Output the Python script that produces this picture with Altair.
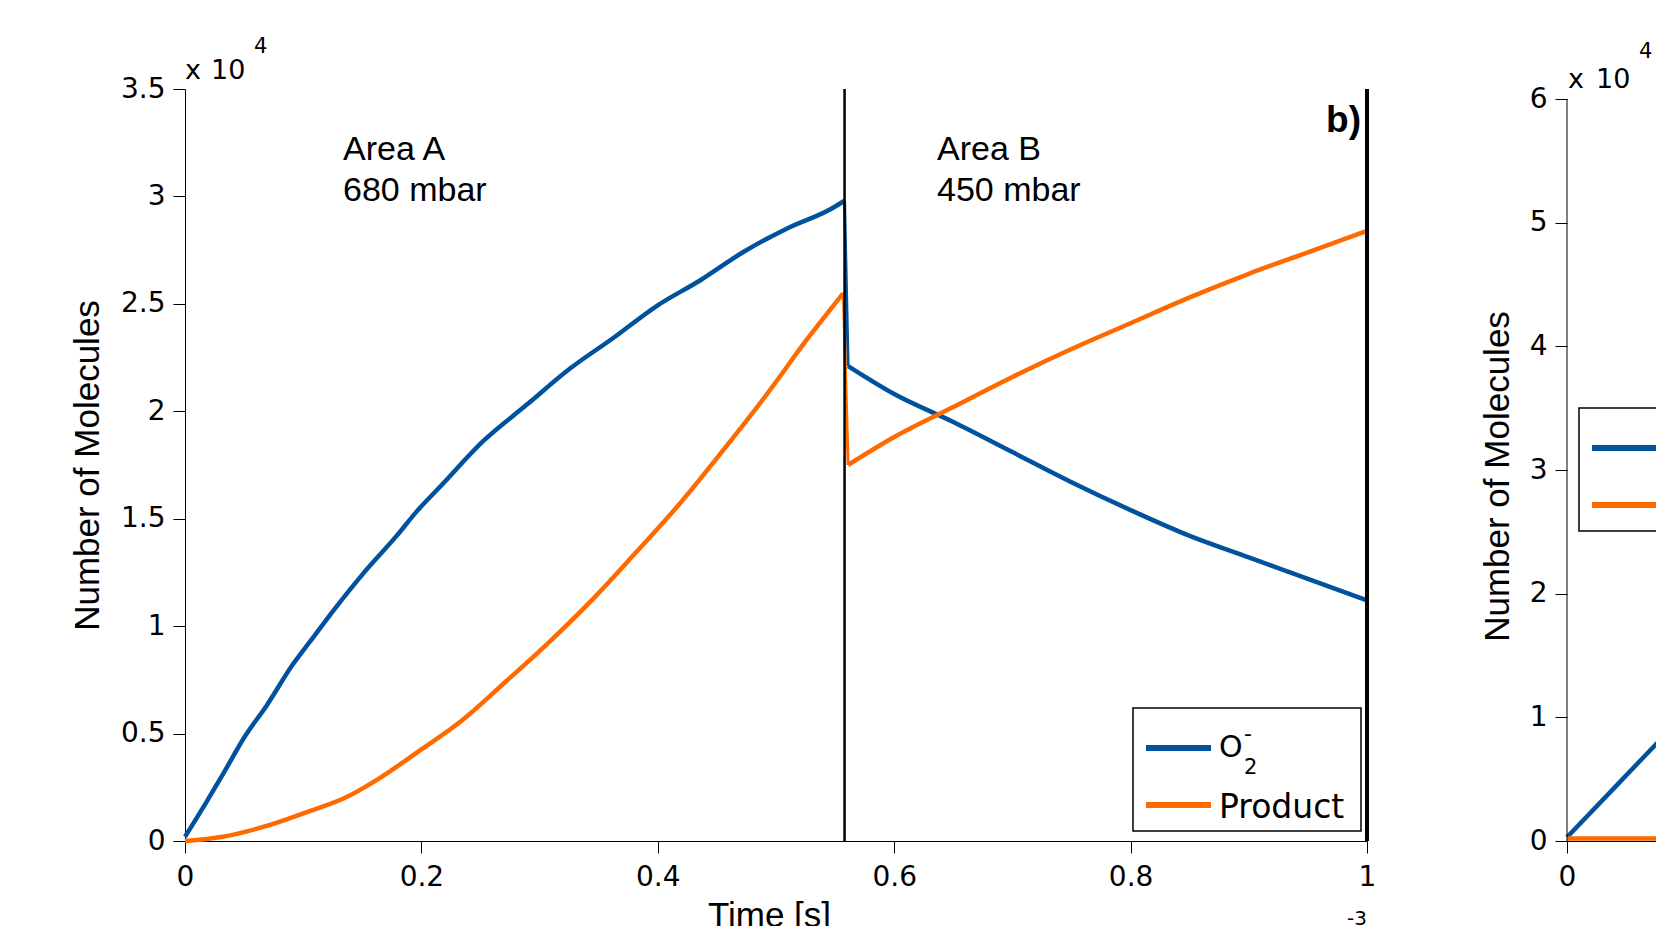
import altair as alt
import pandas as pd

# ---------------- data (time in 1e-3 s, molecules in 1e4) ----------------
# panel b) : O2- (blue)
o2_t = [0.0, 0.018, 0.032, 0.051, 0.069, 0.091, 0.106, 0.128, 0.150, 0.179, 0.197,
        0.216, 0.252, 0.289, 0.326, 0.362, 0.399, 0.436, 0.472, 0.509, 0.546, 0.558,
        0.561, 0.60, 0.65, 0.70, 0.75, 0.80, 0.85, 0.90, 0.95, 1.0]
o2_v = [0.02, 0.18, 0.31, 0.49, 0.63, 0.82, 0.93, 1.09, 1.24, 1.42, 1.54,
        1.65, 1.86, 2.03, 2.20, 2.34, 2.49, 2.61, 2.74, 2.85, 2.94, 2.98,
        2.21, 2.08, 1.95, 1.81, 1.67, 1.54, 1.42, 1.32, 1.22, 1.12]
# panel b) : Product (orange)
prod_t = [0.0, 0.032, 0.069, 0.106, 0.135, 0.161, 0.201, 0.234, 0.271, 0.307, 0.344,
          0.381, 0.417, 0.454, 0.491, 0.527, 0.557,
          0.561, 0.60, 0.65, 0.70, 0.75, 0.80, 0.85, 0.90, 0.95, 1.0]
prod_v = [0.0, 0.02, 0.07, 0.14, 0.20, 0.28, 0.43, 0.56, 0.74, 0.92, 1.12,
          1.34, 1.56, 1.81, 2.07, 2.34, 2.55,
          1.75, 1.88, 2.02, 2.16, 2.29, 2.41, 2.53, 2.64, 2.74, 2.84]
# area boundaries (Area A -> Area B, end of Area B)
boundary_t = [0.558]
end_t = [1.0]

# next panel (only its left edge is visible)
r_o2_t = [0.0, 0.04, 0.08]
r_o2_v = [0.03, 0.43, 0.83]
r_prod_t = [0.0, 0.08]
r_prod_v = [0.02, 0.02]

series_names = ["O2-", "Product"]
series_colors = ["#00529E", "#FF6A00"]

x_ticks = [0, 0.2, 0.4, 0.6, 0.8, 1.0]
y_ticks_left = [0, 0.5, 1, 1.5, 2, 2.5, 3, 3.5]
y_ticks_right = [0, 1, 2, 3, 4, 5, 6]

TICK_FONT = "DejaVu Sans"
TEXT_FONT = "Liberation Sans"

W, H = 1182, 752


def frame(ts, vs, name):
    seg = ["A" if t <= boundary_t[0] else "B" for t in ts]
    return pd.DataFrame({"t": ts, "v": vs, "series": [name] * len(ts), "seg": seg,
                         "i": list(range(len(ts)))})


left_df = pd.concat([frame(o2_t, o2_v, series_names[0]), frame(prod_t, prod_v, series_names[1])],
                    ignore_index=True)
# the pressure switch: last point of Area A and first point of Area B of each series
jump_parts = []
for name, g in left_df.groupby("series"):
    jump_parts.append(g[g["seg"] == "A"].tail(1))
    jump_parts.append(g[g["seg"] == "B"].head(1))
jump_df = pd.concat(jump_parts, ignore_index=True)

right_df = pd.concat([frame(r_o2_t, r_o2_v, series_names[0]), frame(r_prod_t, r_prod_v, series_names[1])],
                     ignore_index=True)
one = pd.DataFrame({"k": [0]})

color = alt.Color("series:N", scale=alt.Scale(domain=series_names, range=series_colors), legend=None)


def x_enc():
    return alt.X("t:Q", scale=alt.Scale(domain=[0, 1], nice=False, zero=False),
                 axis=alt.Axis(values=x_ticks, format="~g", tickSize=12, labelPadding=10,
                               labelFlush=False, labelOverlap=False,
                               labelFont=TICK_FONT, labelFontSize=28, labelColor="black",
                               tickColor="black", domainColor="black", grid=False,
                               title="Time [s]", titleFont=TEXT_FONT, titleFontSize=35,
                               titleFontWeight="normal", titleColor="black",
                               titleX=584, titleY=85, titleBaseline="alphabetic",
                               titleAlign="center"))


def y_enc(domain, ticks, title_x, title_y, show_domain=True):
    return alt.Y("v:Q", scale=alt.Scale(domain=domain, nice=False, zero=False),
                 axis=alt.Axis(values=ticks, format="~g", tickSize=12, labelPadding=8,
                               labelFlush=False, labelOverlap=False,
                               labelFont=TICK_FONT, labelFontSize=28, labelColor="black",
                               tickColor="black", domainColor="black", domain=show_domain,
                               grid=False, title="Number of Molecules", titleFont=TEXT_FONT,
                               titleFontSize=35, titleFontWeight="normal", titleColor="black",
                               titleAngle=270, titleX=title_x, titleY=title_y,
                               titleBaseline="alphabetic", titleAlign="center"))


def text(s, x, y, size, font=TICK_FONT, weight="normal", align="left"):
    return alt.Chart(one).mark_text(text=s, fontSize=size, font=font, fontWeight=weight,
                                    align=align, baseline="alphabetic", color="black").encode(
        x=alt.value(x), y=alt.value(y))


def box(x0, y0, w, h):
    return alt.Chart(one).mark_rect(fill="white", stroke="black", strokeWidth=1.5).encode(
        x=alt.value(x0), x2=alt.value(x0 + w), y=alt.value(y0), y2=alt.value(y0 + h))


def sample(x0, x1, y, c):
    return alt.Chart(one).mark_rule(color=c, strokeWidth=6).encode(
        x=alt.value(x0), x2=alt.value(x1), y=alt.value(y))


def legend(x0, y0):
    return [
        box(x0, y0, 228, 123),
        sample(x0 + 13, x0 + 78, y0 + 40, series_colors[0]),
        sample(x0 + 13, x0 + 78, y0 + 97, series_colors[1]),
        text("O", x0 + 86, y0 + 49, 30),
        text("-", x0 + 111, y0 + 33, 22),
        text("2", x0 + 111, y0 + 66, 21),
        text("Product", x0 + 86, y0 + 110, 33),
    ]


def curve(df, y):
    return alt.Chart(df).mark_line(strokeWidth=4.5, interpolate="monotone").encode(
        x=x_enc(), y=y, color=color, detail="seg:N", order="i:Q")


# ---------------- left panel (b) ----------------
yl = y_enc([0, 3.5], y_ticks_left, -87, 376)
jump = alt.Chart(jump_df).mark_line(strokeWidth=3, interpolate="linear").encode(
    x=x_enc(), y=yl, color=color, order="i:Q")
rule_mid = alt.Chart(pd.DataFrame({"t": boundary_t})).mark_rule(color="black", strokeWidth=2.5).encode(x=x_enc())
rule_end = alt.Chart(pd.DataFrame({"t": end_t})).mark_rule(color="black", strokeWidth=4).encode(x=x_enc())

left = alt.layer(
    curve(left_df, yl), jump, rule_mid, rule_end,
    text("Area A", 158, 71, 34, TEXT_FONT),
    text("680 mbar", 158, 112, 34, TEXT_FONT),
    text("Area B", 752, 71, 34, TEXT_FONT),
    text("450 mbar", 752, 112, 34, TEXT_FONT),
    text("b)", 1176, 43, 37, TEXT_FONT, "bold", "right"),
    text("x", 0, -10, 27),
    text("10", 26, -10, 27),
    text("4", 69, -36, 21),
    text("-3", 1182, 836, 20, align="right"),
    *legend(948, 619),
).properties(width=W, height=H)

# ---------------- right panel (partially visible) ----------------
r_top = 6 * H / 742.0
yr = y_enc([0, r_top], y_ticks_right, -59, 387, show_domain=False)
axis_line_r = alt.Chart(pd.DataFrame({"t": [0.0], "v": [0.0], "v2": [6.0]})).mark_rule(
    color="black", strokeWidth=1).encode(x=x_enc(), y=yr, y2="v2:Q")

right = alt.layer(
    curve(right_df, yr), axis_line_r,
    text("x", 1, -1, 27),
    text("10", 29, -1, 27),
    text("4", 72, -31, 21),
    *legend(12, 319),
).properties(width=W, height=H)

chart = alt.hconcat(left, right, spacing=200, bounds="flush").properties(
    autosize=alt.AutoSizeParams(type="none"),
    padding={"left": 185, "top": 89, "right": 1471, "bottom": 837},
    background="white",
).configure_view(stroke=None)

chart.save("out.html", embed_options={"renderer": "svg", "actions": False})
